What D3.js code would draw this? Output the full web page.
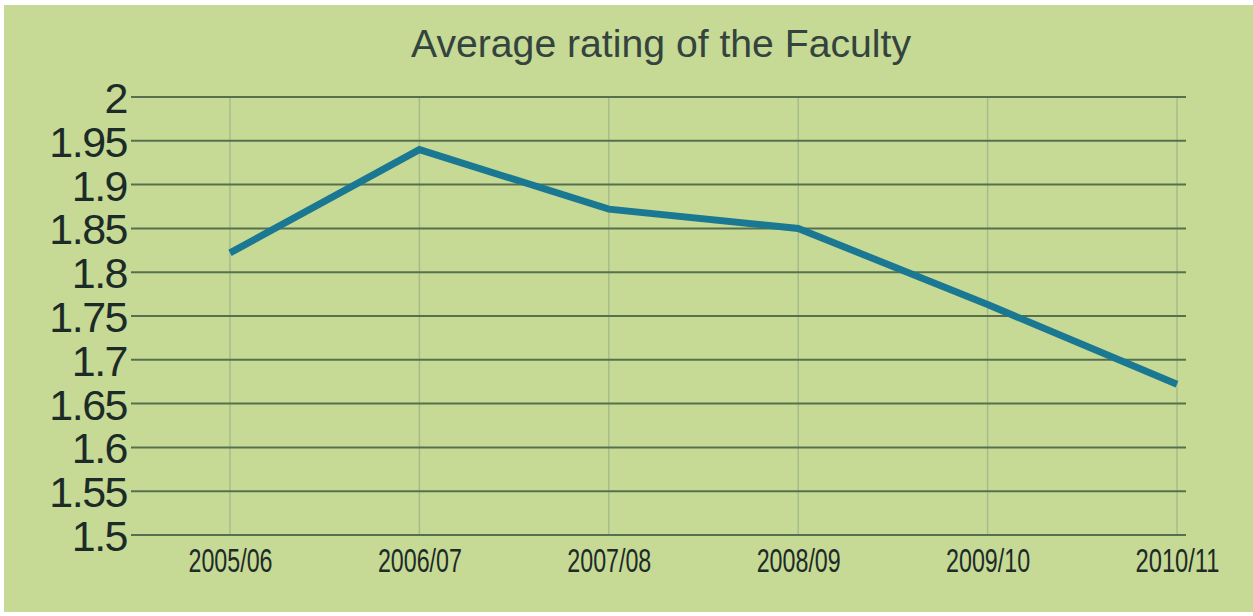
<!DOCTYPE html>
<html>
<head>
<meta charset="utf-8">
<script src="https://cdn.jsdelivr.net/npm/d3@7"></script>
<style>
  html, body { margin: 0; padding: 0; background: #ffffff; }
  svg { display: block; }
</style>
</head>
<body>
<div id="chart"></div>
<script>
const years = ["2005/06", "2006/07", "2007/08", "2008/09", "2009/10", "2010/11"];
const rating = [1.822, 1.94, 1.872, 1.85, 1.763, 1.672];
const yTicks = [1.5, 1.55, 1.6, 1.65, 1.7, 1.75, 1.8, 1.85, 1.9, 1.95, 2];

const width = 1253;
const height = 616;

const svg = d3.select("#chart").append("svg")
  .attr("width", width)
  .attr("height", height);

// green card
svg.append("rect")
  .attr("x", 4).attr("y", 5)
  .attr("width", width - 4).attr("height", 607)
  .attr("fill", "#c6d995");

const gridLeft = 131, gridRight = 1186;

const x = d3.scalePoint().domain(years).range([230, 1177]);
const y = d3.scaleLinear().domain([1.5, 2]).range([535, 97]);

// vertical grid
svg.append("g")
  .selectAll("line")
  .data(years)
  .join("line")
  .attr("x1", d => x(d)).attr("x2", d => x(d))
  .attr("y1", y(2)).attr("y2", y(1.5))
  .attr("stroke", "#a5bc8d")
  .attr("stroke-width", 1.5);

// horizontal grid
svg.append("g")
  .selectAll("line")
  .data(yTicks)
  .join("line")
  .attr("x1", gridLeft).attr("x2", gridRight)
  .attr("y1", d => y(d)).attr("y2", d => y(d))
  .attr("stroke", "#56704f")
  .attr("stroke-width", 2);

// y axis labels
const gy = svg.append("g")
  .attr("transform", `translate(${gridLeft - 4},0)`)
  .call(d3.axisLeft(y).tickValues(yTicks).tickFormat(d3.format("")).tickSize(0).tickPadding(0));
gy.select(".domain").remove();
gy.selectAll("text")
  .attr("font-family", "Liberation Sans, Arial, sans-serif")
  .attr("font-size", 43)
  .attr("letter-spacing", -1.5)
  .attr("fill", "#1c2b28")
  .attr("dy", "0.36em");

// x axis labels
const gx = svg.append("g")
  .attr("transform", `translate(0,${y(1.5)})`)
  .call(d3.axisBottom(x).tickSize(0).tickPadding(0));
gx.select(".domain").remove();
gx.selectAll("text")
  .attr("font-family", "Liberation Sans Narrow, Arial Narrow, sans-serif")
  .attr("font-size", 33)
  .attr("fill", "#1c2b28")
  .attr("dy", 0)
  .attr("y", 37)
  .attr("textLength", 84)
  .attr("lengthAdjust", "spacingAndGlyphs");

// line
const line = d3.line()
  .x((d, i) => x(years[i]))
  .y(d => y(d));

svg.append("path")
  .datum(rating)
  .attr("fill", "none")
  .attr("stroke", "#1a7893")
  .attr("stroke-width", 7)
  .attr("stroke-linejoin", "miter")
  .attr("d", line);

// title
svg.append("text")
  .attr("x", 661).attr("y", 57)
  .attr("text-anchor", "middle")
  .attr("font-family", "Liberation Sans, Arial, sans-serif")
  .attr("font-size", 38)
  .attr("fill", "#33433e")
  .attr("textLength", 500)
  .attr("lengthAdjust", "spacingAndGlyphs")
  .text("Average rating of the Faculty");
</script>
</body>
</html>
